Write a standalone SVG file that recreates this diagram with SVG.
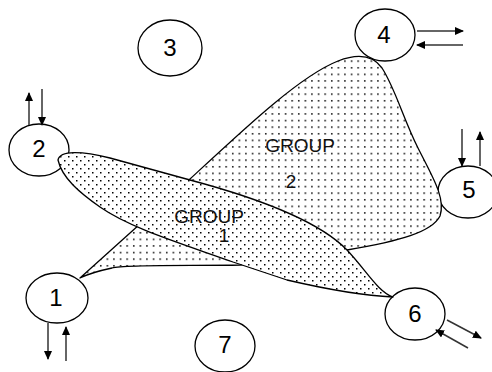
<svg xmlns="http://www.w3.org/2000/svg" width="492" height="372" viewBox="0 0 492 372">
<style>
.node ellipse{fill:#fff;stroke:#000;stroke-width:1.3}
.lbl{font-family:"Liberation Sans",Arial,sans-serif;font-size:24px;fill:#000;text-anchor:middle}
.glbl{font-family:"Liberation Sans",Arial,sans-serif;font-size:19px;fill:#111;text-anchor:middle}
.shape{stroke:#000;stroke-width:1.3;stroke-linejoin:round}
.arr{stroke:#333;stroke-width:1.5;fill:none;marker-end:url(#ah)}
</style>
<defs>
<pattern id="p1" width="8" height="8" patternUnits="userSpaceOnUse">
<rect width="8" height="8" fill="#fff"/>
<rect x="0" y="0" width="1.5" height="1.5" fill="#000"/>
<rect x="4" y="4" width="1.5" height="1.5" fill="#000"/>
</pattern>
<pattern id="p2" width="6.6" height="6.6" patternUnits="userSpaceOnUse">
<rect width="6.6" height="6.6" fill="#fff"/>
<rect x="1" y="1" width="1.5" height="1.5" fill="#000"/>
</pattern>
<marker id="ah" markerWidth="9" markerHeight="8" refX="8" refY="4" orient="auto" markerUnits="userSpaceOnUse">
<path d="M0,0 L9,4 L0,8 Z" fill="#000"/>
</marker>
</defs>
<rect width="492" height="372" fill="#fff"/>
<g id="node3" class="node"><ellipse cx="170" cy="48" rx="32" ry="28"/><text class="lbl" x="170" y="56">3</text></g>
<g id="node4" class="node"><ellipse cx="385" cy="35" rx="30" ry="26"/><text class="lbl" x="384" y="43">4</text></g>
<g id="node2" class="node"><ellipse cx="39" cy="150" rx="30" ry="26"/><text class="lbl" x="39" y="157">2</text></g>
<g id="node5" class="node"><ellipse cx="468" cy="192" rx="30" ry="26"/><text class="lbl" x="469" y="198">5</text></g>
<g id="node1" class="node"><ellipse cx="57" cy="298" rx="31" ry="25"/><text class="lbl" x="56" y="306">1</text></g>
<g id="node6" class="node"><ellipse cx="415" cy="314" rx="30" ry="26"/><text class="lbl" x="415" y="322">6</text></g>
<g id="node7" class="node"><ellipse cx="225" cy="346" rx="30" ry="26"/><text class="lbl" x="225" y="353">7</text></g>
<g id="group2">
<path class="shape" fill="url(#p2)" d="M80,278 L190,179 C245,128 300,76 338,61 C356,54 372,54 382,68 C395,88 403,118 418,148 C432,176 446,198 440,216 C432,232 400,241 347,250 L240,265 C200,266 125,264 112,268 C98,271 88,274 80,278 Z"/>
<text class="glbl" x="300" y="152">GROUP</text>
<text class="glbl" x="291" y="188">2</text>
</g>
<g id="group1">
<path class="shape" fill="url(#p1)" d="M58,160 C60,150 82,151 110,158 L190,180 C250,196 318,220 347,250 C366,270 378,292 393,297 C370,296 330,290 287,280 L233,262 C180,243 130,228 100,207 C80,193 62,178 58,160 Z"/>
<text class="glbl" x="209" y="223">GROUP</text>
<text class="glbl" x="224" y="242">1</text>
</g>
<g id="connectors">
<line class="arr" x1="29" y1="125" x2="29" y2="93"/>
<line class="arr" x1="42" y1="89" x2="42" y2="125"/>
<line class="arr" x1="417" y1="31" x2="463" y2="31"/>
<line class="arr" x1="463" y1="45" x2="417" y2="45"/>
<line class="arr" x1="462" y1="129" x2="462" y2="166"/>
<line class="arr" x1="480" y1="166" x2="480" y2="132"/>
<line class="arr" x1="48" y1="323" x2="48" y2="359"/>
<line class="arr" x1="66" y1="361" x2="66" y2="327"/>
<line class="arr" x1="447" y1="320" x2="481" y2="338"/>
<line class="arr" x1="468" y1="348" x2="436" y2="330"/>
</g>
</svg>
